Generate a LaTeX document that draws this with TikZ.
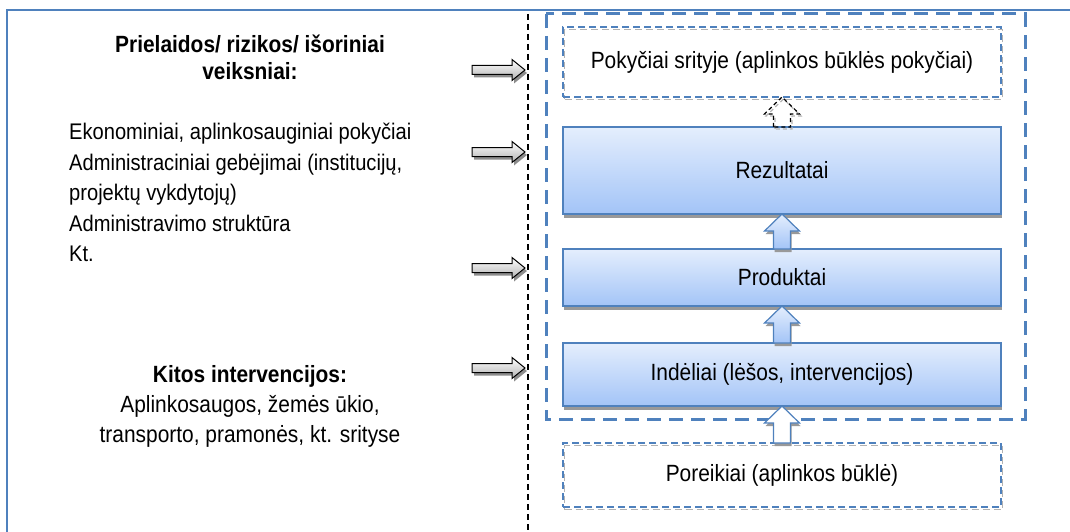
\documentclass[tikz,border=0pt]{standalone}
\usepackage{fontspec}
\setmainfont[FakeStretch=0.89]{Liberation Sans}
\usetikzlibrary{
        calc,
        positioning,
        shadows
    }
\definecolor{lfblue}{RGB}{79,129,189}
\definecolor{lftop}{RGB}{228,238,253}
\definecolor{lfbot}{RGB}{163,196,247}
\tikzset{
    txt/.style={font=\fontsize{23.5}{30}\selectfont, inner sep=0pt},
    resbox/.style={draw=lfblue, line width=1.3pt, top color=lftop, bottom color=lfbot,
        minimum width=438pt, outer sep=0pt, font=\fontsize{23.5}{27}\selectfont,
        drop shadow={shadow xshift=1pt, shadow yshift=-4pt, fill=black!40, opacity=1}},
    dashbox/.style={draw=lfblue, line width=1.3pt, dash pattern=on 7pt off 4pt,
        minimum width=438pt, outer sep=0pt, font=\fontsize{23.5}{27}\selectfont,
        general shadow={shadow xshift=1.5pt, shadow yshift=-2.5pt, draw=black!30,
            fill=none, line width=1.3pt, dash pattern=on 7pt off 4pt}},
    arrblue/.style={draw=lfblue, line width=1.2pt, top color=lftop, bottom color=lfbot,
        drop shadow={shadow xshift=1pt, shadow yshift=-3pt, fill=black!40, opacity=1}},
    arrwhite/.style={draw=lfblue, line width=1.2pt, fill=white,
        drop shadow={shadow xshift=1pt, shadow yshift=-3pt, fill=black!40, opacity=1}},
    arrdash/.style={draw=black, line width=1.2pt, dash pattern=on 4pt off 3pt,
        general shadow={shadow xshift=1.5pt, shadow yshift=-2pt, draw=black!30,
            fill=none, line width=1.2pt, dash pattern=on 4pt off 3pt}},
    sidearr/.style={draw=black, line width=1pt, top color=white, bottom color=black!30,
        drop shadow={shadow xshift=2pt, shadow yshift=-3pt, fill=black!45, opacity=1}},
    frameline/.style={draw=lfblue, line width=2.5pt},
    bigdash/.style={draw=lfblue, line width=3pt, dash pattern=on 14pt off 8pt},
    sepline/.style={draw=black, line width=1.3pt, dash pattern=on 6pt off 4pt}
}
% block arrow pointing up: style, tail, tip
\newcommand{\blockup}[3]{%
    \path[#1] let \p1=(#2), \p2=(#3) in
        (\x1-8.5pt,\y1) -- (\x1-8.5pt,\y2-17pt) -- (\x1-17.5pt,\y2-17pt) -- (\x1,\y2)
        -- (\x1+17.5pt,\y2-17pt) -- (\x1+8.5pt,\y2-17pt) -- (\x1+8.5pt,\y1) -- cycle;}
% block arrow pointing right: style, tail, tip
\newcommand{\blockright}[3]{%
    \path[#1] let \p1=(#2), \p2=(#3) in
        (\x1,\y1+4.5pt) -- (\x2-13pt,\y1+4.5pt) -- (\x2-13pt,\y1+10.5pt) -- (\x2,\y1)
        -- (\x2-13pt,\y1-10.5pt) -- (\x2-13pt,\y1-4.5pt) -- (\x1,\y1-4.5pt) -- cycle;}

\begin{document}
\begin{tikzpicture}[x=1pt,y=-1pt]
    \useasboundingbox (0,0) rectangle (1070,532);
    \draw[frameline] (7,534) -- (7,10) -- (1072,10);
    \draw[sepline] (528,14) -- (528,532);

    % left side
    \node[txt, font=\bfseries\fontsize{23.5}{27}\selectfont, align=center] (pre) at (250,57)
        {Prielaidos/ rizikos/ išoriniai\\veiksniai:};
    \node[txt, font=\fontsize{22.6}{30.5}\selectfont, align=left, anchor=north west] (veik)
        at (69,123)
        {Ekonominiai, aplinkosauginiai pokyčiai\\
         Administraciniai gebėjimai (institucijų,\\
         projektų vykdytojų)\\
         Administravimo struktūra\\
         Kt.};
    \node[txt, align=center] (kit) at (250,406)
        {\textbf{Kitos intervencijos:}\\
         Aplinkosaugos, žemės ūkio,\\
         transporto, pramonės, kt. srityse};
    \foreach \yy [count=\i] in {70,152,268,368} {
        \coordinate (s\i) at (472,\yy);
        \coordinate (e\i) at (525,\yy);
        \blockright{sidearr}{s\i}{e\i}
    }

    % right side
    \node[dashbox, minimum height=70pt] (pok) at (782,62)
        {Pokyčiai srityje (aplinkos būklės pokyčiai)};
    \node[resbox, minimum height=87pt, below=30pt of pok] (rez) {Rezultatai};
    \node[resbox, minimum height=57pt, below=35pt of rez] (prod) {Produktai};
    \node[resbox, minimum height=63pt, below=37pt of prod] (ind)
        {Indėliai (lėšos, intervencijos)};
    \node[dashbox, minimum height=64pt, below=37pt of ind] (por)
        {Poreikiai (aplinkos būklė)};
    \draw[bigdash] ($(pok.north west)+(-17,-13)$) rectangle ($(ind.south east)+(24,13)$);

    \blockup{arrdash}{rez.north}{pok.south}
    \blockup{arrblue}{prod.north}{rez.south}
    \blockup{arrblue}{ind.north}{prod.south}
    \blockup{arrwhite}{por.north}{ind.south}
\end{tikzpicture}
\end{document}
